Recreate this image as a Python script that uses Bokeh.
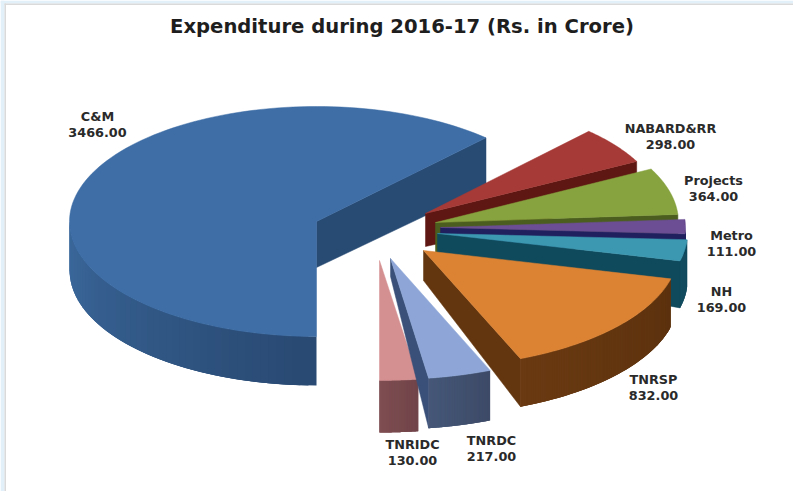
import numpy as np
from bokeh.core.properties import value
from bokeh.embed import file_html
from bokeh.models import Range1d
from bokeh.plotting import figure
from bokeh.resources import INLINE

# Expenditure by programme, Rs. in crore
categories = ["C&M", "NABARD&RR", "Projects", "Metro", "NH", "TNRSP", "TNRDC", "TNRIDC"]
expenditure = [3466.00, 298.00, 364.00, 111.00, 169.00, 832.00, 217.00, 130.00]
chart_title = "Expenditure during 2016-17 (Rs. in Crore)"

# Colours: top face, cut face, rim at its lighter and darker end
top_colors = ["#3F6EA6", "#A63A37", "#86A33F", "#6B4E93", "#3C98B1", "#DB8233", "#8DA6D7", "#D48F90"]
face_colors = ["#284B74", "#5E1712", "#4C5E1F", "#20205F", "#0F495C", "#63360F", "#3A5079", "#7A4A4E"]
rim_light = ["#3C6A9E", "#6E1F1B", "#4C5E1F", "#20205F", "#0F495C", "#6A3A12", "#465879", "#7F4E52"]
rim_dark = ["#294A73", "#5E1712", "#4C5E1F", "#20205F", "#0F495C", "#5C320E", "#3E4B68", "#71454A"]

# Exploded placement of each slice in page pixels:
# apex x, apex y, radius x, radius y, wall depth at apex, wall depth at rim
placement = [
    (316, 221, 247, 115, 46, 49),
    (425, 213, 238, 113, 33, 38),
    (435, 222, 243, 116, 30, 32),
    (440, 227, 245, 116, 14, 20),
    (437, 233, 250, 113, 30, 47),
    (423, 250, 255, 117, 30, 48),
    (390, 258, 262, 121, 18, 50),
    (379, 260, 267, 120, 30, 52),
]
# Painted back to front
paint_order = [0, 1, 2, 3, 4, 5, 7, 6]

label_xy = [(97, 116), (670, 128), (713, 180), (731, 235), (721, 291), (653, 379), (491, 440), (412, 444)]


def blend(c1, c2, t):
    a = [int(c1[i:i + 2], 16) for i in (1, 3, 5)]
    b = [int(c2[i:i + 2], 16) for i in (1, 3, 5)]
    return "#%02X%02X%02X" % tuple(round(u + (v - u) * t) for u, v in zip(a, b))


p = figure(width=793, height=491, output_backend="svg", toolbar_location=None,
           x_range=Range1d(0, 793), y_range=Range1d(491, 0), min_border=0,
           background_fill_color="white", border_fill_color="white")
p.axis.visible = False
p.grid.visible = False
p.outline_line_color = None

# Pale frame on the left and top, closed by a thin grey edge
p.quad(left=[0, 0], right=[793, 4], top=[0, 0], bottom=[3, 491], fill_color="#E2F0FA", line_color=None)
p.quad(left=[4, 4], right=[793, 5.5], top=[3, 3], bottom=[4.5, 491], fill_color="#DADADA", line_color=None)

# Slices run clockwise from the bottom of the pie
sweeps = 2 * np.pi * np.array(expenditure) / sum(expenditure)
ends = -np.pi / 2 - np.cumsum(sweeps)
starts = ends + sweeps

for i in paint_order:
    ax, ay, rx, ry, d_apex, d_rim = placement[i]
    t1, t2 = starts[i], ends[i]
    thetas = np.linspace(t1, t2, 120)
    xs = ax + rx * np.cos(thetas)
    ys = ay - ry * np.sin(thetas)

    # Cut faces turned towards the viewer
    for t in (t1, t2):
        if (t == t2 and np.cos(t) > 0.001) or (t == t1 and np.cos(t) < -0.001):
            ox, oy = ax + rx * np.cos(t), ay - ry * np.sin(t)
            p.patch([ax, ox, ox, ax], [ay, oy, oy + d_rim, ay + d_apex],
                    fill_color=face_colors[i], line_color=face_colors[i], line_width=0.5)

    # Outer rim on the front half, shaded in overlapping strips so no seams show
    front = np.sin(thetas) < 0.02
    tf = thetas[front]
    if len(tf) > 1:
        n = len(tf) - 1
        strip_x, strip_y, strip_c = [], [], []
        for k in range(n):
            a0, a1 = tf[k], tf[min(k + 3, n)]
            x0, x1 = ax + rx * np.cos(a0), ax + rx * np.cos(a1)
            y0, y1 = ay - ry * np.sin(a0), ay - ry * np.sin(a1)
            strip_x.append([x0, x1, x1, x0])
            strip_y.append([y0, y1, y1 + d_rim, y0 + d_rim])
            strip_c.append(blend(rim_dark[i], rim_light[i], k / max(n - 1, 1)))
        p.patches(strip_x[::-1], strip_y[::-1], fill_color=strip_c[::-1], line_color=None)

    # Top face
    p.patch([ax, *xs], [ay, *ys], fill_color=top_colors[i], line_color=top_colors[i], line_width=0.5)

# Slice labels: name above value
for name, amount, (lx, ly) in zip(categories, expenditure, label_xy):
    p.text([lx, lx], [ly, ly + 16], text=[name, f"{amount:.2f}"], text_align="center",
           text_baseline="middle", text_font=value("DejaVu Sans"), text_font_style="bold",
           text_font_size="12.8px", text_color="#2A2A2A")

p.text([401.5], [26], text=[chart_title], text_align="center", text_baseline="middle",
       text_font=value("DejaVu Sans"), text_font_style="bold", text_font_size="19.6px",
       text_color="#1E1E1E")

open("out.html", "w").write(file_html(p, INLINE))
